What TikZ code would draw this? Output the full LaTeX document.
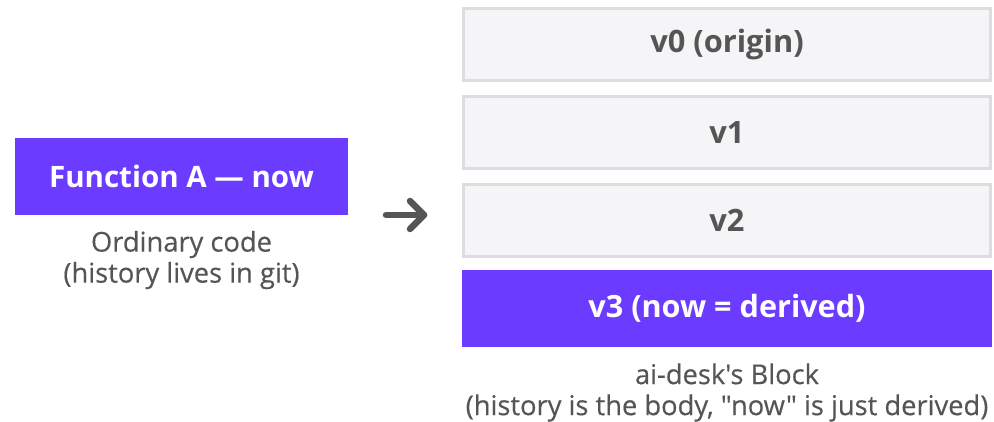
\documentclass[tikz,border=0pt]{standalone}
\usepackage{fontspec}
\setmainfont{Open Sans}[Ligatures=TeXOff]
\newfontfamily\capfont{Open Sans}[Ligatures=TeXOff, BoldFont=Open Sans, BoldFeatures={FakeBold=0.35}]
\usetikzlibrary{calc}
\definecolor{purp}{HTML}{6B3CFF}
\definecolor{txtgray}{HTML}{555555}
\definecolor{boxfill}{HTML}{F5F5F7}
\definecolor{boxline}{HTML}{DCDCE1}
\begin{document}
\begin{tikzpicture}[x=1pt,y=-1pt,
  purpbox/.style={fill=purp, draw=none, inner sep=0pt, text=white, font=\fontsize{29.5}{33}\selectfont\bfseries},
  verbox/.style={fill=boxfill, draw=boxline, line width=3pt, inner sep=0pt, text=txtgray, font=\fontsize{30.8}{34}\selectfont\bfseries},
  caption/.style={text=txtgray, align=center, inner sep=0pt, font=\capfont\bfseries\fontsize{27.3}{31}\selectfont},
  arr/.style={draw=txtgray, line width=6.5pt, line cap=round, line join=round}]
\useasboundingbox (0,0) rectangle (994,422);
\node[purpbox, minimum width=333pt, minimum height=77pt] (fa) at (181.5,176.5) {Function A — now};
\node[caption] (capl) at (181.5,260) {Ordinary code\\(history lives in git)};
\node[verbox, minimum width=527pt, minimum height=72pt] (v0) at (727,44.5) {v0 (origin)};
\node[verbox, minimum width=527pt, minimum height=72pt] (v1) at (727,132.5) {v1};
\node[verbox, minimum width=527pt, minimum height=72pt] (v2) at (727,220.5) {v2};
\node[purpbox, minimum width=530pt, minimum height=77pt, font=\fontsize{30.6}{34}\selectfont\bfseries] (v3) at (727,308.5) {v3 (now = derived)};
\node[caption] (capr) at (727,392.5) {ai-desk's Block\\(history is the body, "now" is just derived)};
\coordinate (as) at (386,215);
\coordinate (at) at (424,215);
\draw[arr] (as) -- (at);
\draw[arr] ($(at)+(-14,-14)$) -- (at) -- ($(at)+(-14,14)$);
\end{tikzpicture}
\end{document}
